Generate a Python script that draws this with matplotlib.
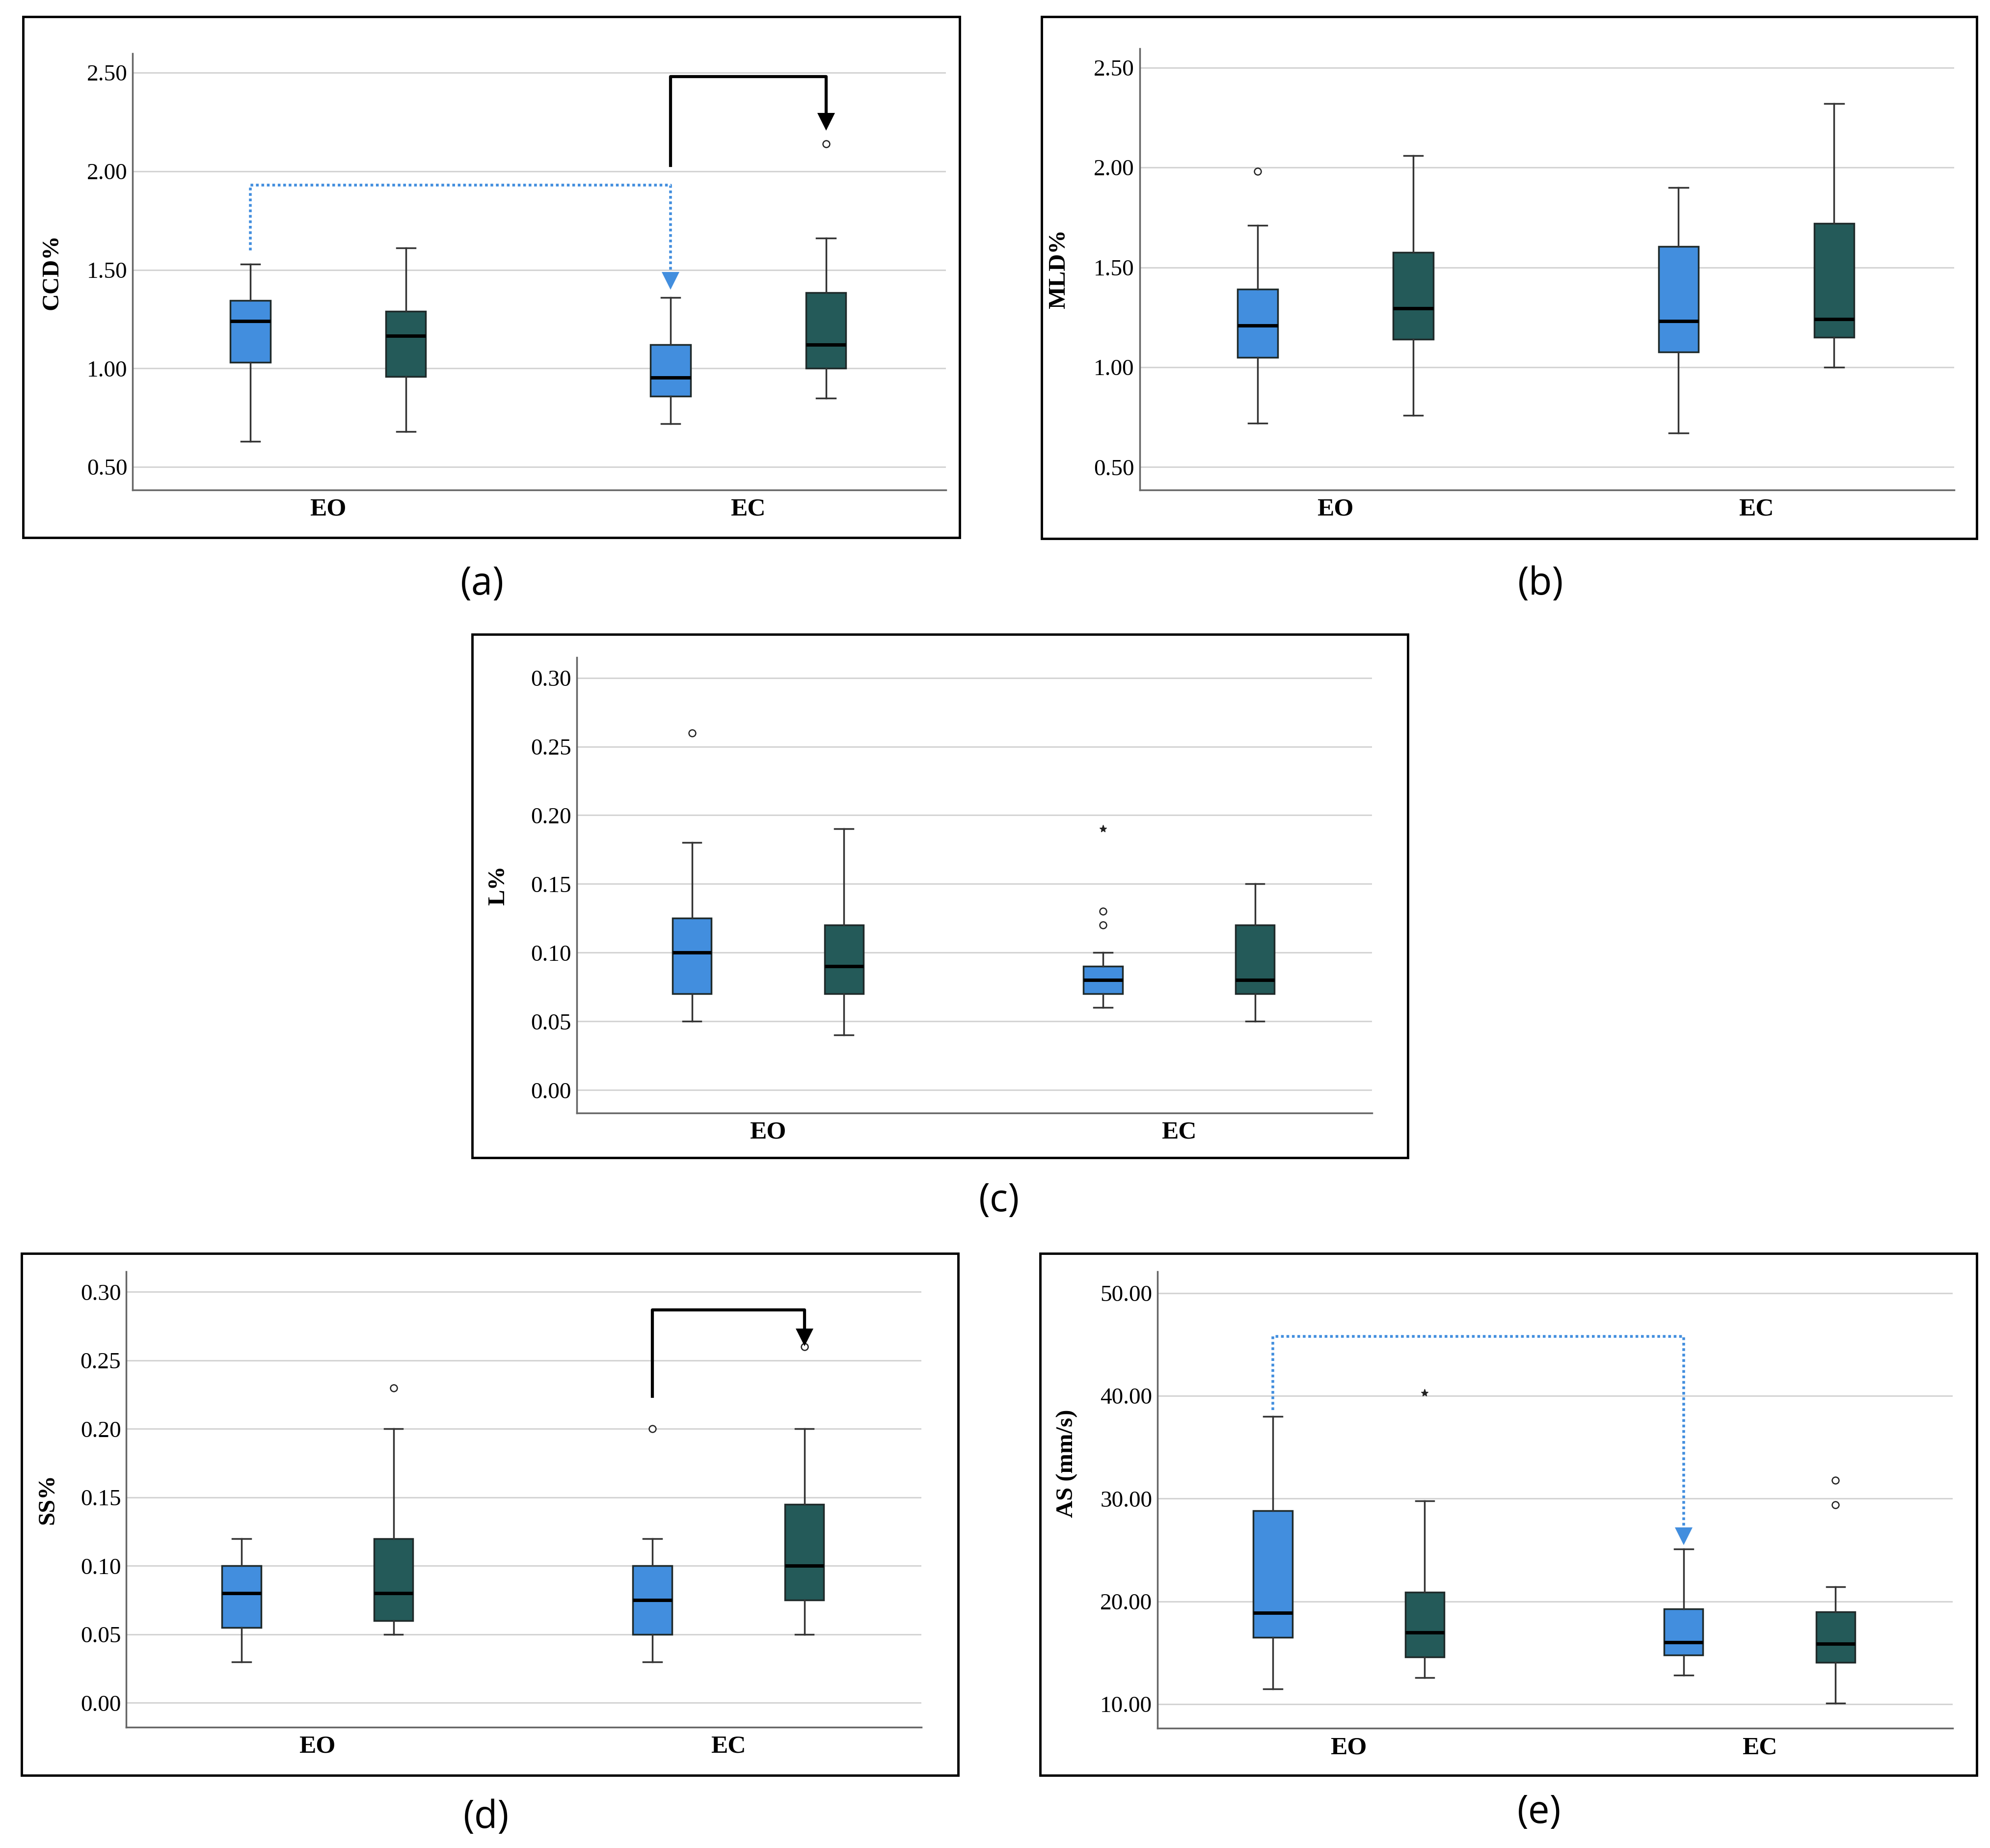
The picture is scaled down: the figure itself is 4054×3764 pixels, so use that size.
import numpy as np
import matplotlib.pyplot as plt
from matplotlib.patches import Rectangle

# box order in every panel: EO blue, EO dark, EC blue, EC dark
groups = ['EO', 'EC']
offset = 0.185
box_w = 0.095

blue = '#428EDE'
dark = '#245A59'

# (a) CCD%
ccd_lo = [0.63, 0.68, 0.72, 0.85]
ccd_q1 = [1.03, 0.96, 0.86, 1.00]
ccd_med = [1.24, 1.165, 0.955, 1.12]
ccd_q3 = [1.345, 1.29, 1.12, 1.385]
ccd_hi = [1.53, 1.61, 1.36, 1.66]
ccd_out = [[], [], [], [2.14]]
ccd_ext = [[], [], [], []]
ccd_ticks = [0.50, 1.00, 1.50, 2.00, 2.50]

# (b) MLD%
mld_lo = [0.72, 0.76, 0.67, 1.00]
mld_q1 = [1.05, 1.14, 1.075, 1.15]
mld_med = [1.21, 1.295, 1.23, 1.24]
mld_q3 = [1.39, 1.575, 1.605, 1.72]
mld_hi = [1.71, 2.06, 1.90, 2.32]
mld_out = [[1.98], [], [], []]
mld_ext = [[], [], [], []]
mld_ticks = [0.50, 1.00, 1.50, 2.00, 2.50]

# (c) L%
l_lo = [0.05, 0.04, 0.06, 0.05]
l_q1 = [0.07, 0.07, 0.07, 0.07]
l_med = [0.10, 0.09, 0.08, 0.08]
l_q3 = [0.125, 0.12, 0.09, 0.12]
l_hi = [0.18, 0.19, 0.10, 0.15]
l_out = [[0.26], [], [0.12, 0.13], []]
l_ext = [[], [], [0.19], []]
l_ticks = [0.00, 0.05, 0.10, 0.15, 0.20, 0.25, 0.30]

# (d) SS%
ss_lo = [0.03, 0.05, 0.03, 0.05]
ss_q1 = [0.055, 0.06, 0.05, 0.075]
ss_med = [0.08, 0.08, 0.075, 0.10]
ss_q3 = [0.10, 0.12, 0.10, 0.145]
ss_hi = [0.12, 0.20, 0.12, 0.20]
ss_out = [[], [0.23], [0.20], [0.26]]
ss_ext = [[], [], [], []]
ss_ticks = [0.00, 0.05, 0.10, 0.15, 0.20, 0.25, 0.30]

# (e) AS (mm/s)
as_lo = [11.5, 12.6, 12.8, 10.1]
as_q1 = [16.5, 14.6, 14.8, 14.05]
as_med = [18.9, 17.0, 16.0, 15.9]
as_q3 = [28.8, 20.9, 19.25, 19.0]
as_hi = [38.0, 29.8, 25.1, 21.4]
as_out = [[], [], [], [29.4, 31.8]]
as_ext = [[], [40.3], [], []]
as_ticks = [10.00, 20.00, 30.00, 40.00, 50.00]

# significance brackets: [start y, top y, arrow y], from box i to box j
ccd_sig_blue = [1.60, 1.93, 1.445]
ccd_sig_black = [2.03, 2.48, 2.25]
ss_sig_black = [0.224, 0.287, 0.267]
as_sig_blue = [38.6, 45.8, 26.35]

positions = [0 - offset, 0 + offset, 1 - offset, 1 + offset]
colors = [blue, dark, blue, dark]

fig = plt.figure(figsize=(40.55, 37.64), dpi=100)

serif = 'Liberation Serif'


def draw_panel(rect, frame, lo, q1, med, q3, hi, out, ext, ylim, ticks, ylabel, lab_xy):
    ax = fig.add_axes(rect)
    stats = []
    for i in range(4):
        stats.append(dict(whislo=lo[i], q1=q1[i], med=med[i], q3=q3[i],
                          whishi=hi[i], fliers=[]))
    bp = ax.bxp(stats, positions=positions, widths=box_w, patch_artist=True,
                showfliers=False, capwidths=0.045,
                boxprops=dict(edgecolor='#1f2a2a', linewidth=2.5),
                whiskerprops=dict(color='#333333', linewidth=2.5),
                capprops=dict(color='#333333', linewidth=2.5),
                medianprops=dict(color='black', linewidth=5))
    for patch, c in zip(bp['boxes'], colors):
        patch.set_facecolor(c)
    for i in range(4):
        if out[i]:
            ax.plot([positions[i]] * len(out[i]), out[i], 'o', ms=10,
                    mfc='white', mec='#222222', mew=1.8, zorder=5)
        if ext[i]:
            ax.plot([positions[i]] * len(ext[i]), ext[i], '*', ms=11,
                    color='#222222', zorder=5)
    ax.set_xlim(-0.465, 1.47)
    ax.set_ylim(*ylim)
    ax.set_yticks(ticks)
    ax.set_yticklabels(['%.2f' % t for t in ticks], fontsize=34, family=serif)
    ax.set_xticks([0, 1])
    ax.set_xticklabels(groups, fontsize=37, family=serif, fontweight='bold')
    ax.tick_params(length=0)
    ax.tick_params(axis='y', pad=8)
    ax.tick_params(axis='x', pad=12)
    ax.yaxis.grid(True, color='#d4d4d4', linewidth=2.2)
    ax.set_axisbelow(True)
    for s in ['top', 'right']:
        ax.spines[s].set_visible(False)
    for s in ['left', 'bottom']:
        ax.spines[s].set_color('#666666')
        ax.spines[s].set_linewidth(2.5)
    ax.set_ylabel(ylabel, fontsize=35, family=serif, fontweight='bold')
    ax.yaxis.set_label_coords(*lab_xy)
    fig.add_artist(Rectangle((frame[0], frame[1]), frame[2], frame[3],
                             transform=fig.transFigure, fill=False,
                             edgecolor='black', linewidth=3.5))
    return ax


def bracket(ax, i, j, sig, color, ls, lw, ms):
    x0, x1 = positions[i], positions[j]
    ax.plot([x0, x0, x1, x1], [sig[0], sig[1], sig[1], sig[2]],
            color=color, linestyle=ls, linewidth=lw, zorder=6)
    ax.plot([x1], [sig[2]], marker='v', ms=ms, color=color, mew=0, zorder=6)


ax_a = draw_panel([0.0667, 0.7348, 0.4084, 0.2362], [0.0115, 0.7092, 0.4707, 0.2818],
                  ccd_lo, ccd_q1, ccd_med, ccd_q3, ccd_hi, ccd_out, ccd_ext,
                  (0.383, 2.597), ccd_ticks, 'CCD%', (-0.086, 0.5))
bracket(ax_a, 0, 2, ccd_sig_blue, blue, (0, (1, 1)), 4, 26)
bracket(ax_a, 2, 3, ccd_sig_black, 'black', '-', 4.5, 26)

ax_b = draw_panel([0.5726, 0.7348, 0.4091, 0.2390], [0.5232, 0.7085, 0.4700, 0.2825],
                  mld_lo, mld_q1, mld_med, mld_q3, mld_hi, mld_out, mld_ext,
                  (0.385, 2.596), mld_ticks, 'MLD%', (-0.086, 0.5))

ax_c = draw_panel([0.2898, 0.3977, 0.3995, 0.2466], [0.2372, 0.3735, 0.4700, 0.2832],
                  l_lo, l_q1, l_med, l_q3, l_hi, l_out, l_ext,
                  (-0.0167, 0.3149), l_ticks, 'L%', (-0.085, 0.5))

ax_d = draw_panel([0.0635, 0.0654, 0.3994, 0.2466], [0.0109, 0.0392, 0.4706, 0.2825],
                  ss_lo, ss_q1, ss_med, ss_q3, ss_hi, ss_out, ss_ext,
                  (-0.0177, 0.315), ss_ticks, 'SS%', (-0.085, 0.5))
bracket(ax_d, 2, 3, ss_sig_black, 'black', '-', 4.5, 26)

ax_e = draw_panel([0.5816, 0.0647, 0.3994, 0.2473], [0.5226, 0.0392, 0.4706, 0.2825],
                  as_lo, as_q1, as_med, as_q3, as_hi, as_out, as_ext,
                  (7.64, 52.1), as_ticks, 'AS (mm/s)', (-0.100, 0.58))
bracket(ax_e, 0, 2, as_sig_blue, blue, (0, (1, 1)), 4, 26)

for lab, x, y in [('(a)', 0.2424, 0.6836), ('(b)', 0.7739, 0.6836), ('(c)', 0.502, 0.350),
                  ('(d)', 0.2443, 0.0164), ('(e)', 0.7733, 0.0191)]:
    fig.text(x, y, lab, fontsize=56, family='Open Sans', ha='center', va='center')

fig.savefig('out.png', dpi=100, facecolor='white')
